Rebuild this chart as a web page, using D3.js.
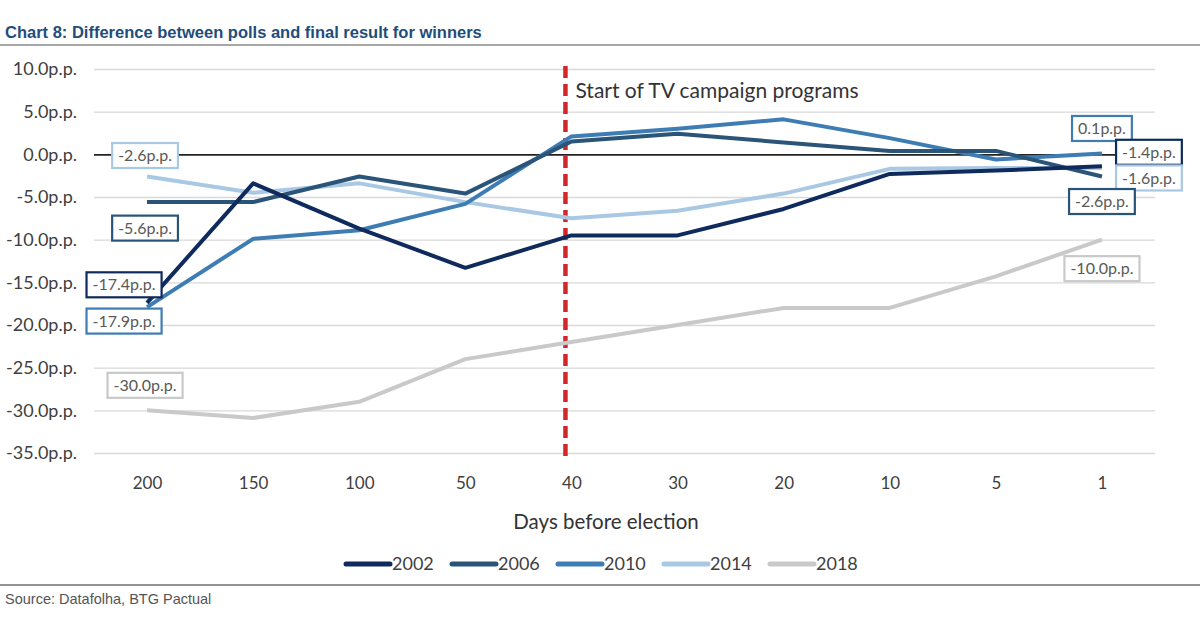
<!DOCTYPE html>
<html>
<head>
<meta charset="utf-8">
<script src="https://cdn.jsdelivr.net/npm/d3@7"></script>
<style>
  body { margin: 0; background: #fff; }
  svg { display: block; }
</style>
</head>
<body>
<div id="pollChart"></div>
<script>
var days = ['200', '150', '100', '50', '40', '30', '20', '10', '5', '1'];
var years = ['2002', '2006', '2010', '2014', '2018'];

var s2002 = [-17.4, -3.4, -8.7, -13.3, -9.5, -9.5, -6.4, -2.3, -1.9, -1.4];
var s2006 = [-5.6, -5.6, -2.6, -4.6, 1.5, 2.4, 1.4, 0.4, 0.4, -2.6];
var s2010 = [-17.9, -9.9, -8.9, -5.8, 2.1, 3.0, 4.1, 1.9, -0.6, 0.1];
var s2014 = [-2.6, -4.5, -3.4, -5.6, -7.5, -6.6, -4.6, -1.7, -1.6, -1.6];
var s2018 = [-30.0, -30.9, -29.0, -24.0, -22.0, -20.0, -18.0, -18.0, -14.3, -10.0];

var yTicks = [10, 5, 0, -5, -10, -15, -20, -25, -30, -35];

var seriesValues = [s2002, s2006, s2010, s2014, s2018];
var colors = ['#0f2a5c', '#2b5479', '#3e7cb4', '#a9c8e4', '#c9c9c9'];

// end labels: which series, which point, and where the box sits
var callouts = [
  { s: 3, i: 0, dx: -2, dy: -21 },
  { s: 1, i: 0, dx: -2, dy: 26 },
  { s: 0, i: 0, dx: -23, dy: -18 },
  { s: 2, i: 0, dx: -23, dy: 14 },
  { s: 4, i: 0, dx: -2, dy: -25 },
  { s: 2, i: 9, dx: 0, dy: -25 },
  { s: 0, i: 9, dx: 47, dy: -14 },
  { s: 3, i: 9, dx: 47, dy: 10 },
  { s: 1, i: 9, dx: 0, dy: 25 },
  { s: 4, i: 9, dx: 0, dy: 29 }
];

var W = 1200, H = 628;
var svg = d3.select('#pollChart').append('svg').attr('width', W).attr('height', H);
var font = 'Lato, "Noto Sans", sans-serif';

// plain hyphen for negatives, like the original
var locale = d3.formatLocale({ decimal: '.', thousands: ',', grouping: [3], currency: ['', ''], minus: '-' });
var fmt = function(v) { return locale.format('.1f')(v) + 'p.p.'; };

var x = d3.scalePoint().domain(days).range([94, 1155]).padding(0.5);
var y = d3.scaleLinear().domain([-35, 10]).range([453, 69]);

// title + rules
svg.append('text')
  .attr('x', 5).attr('y', 38)
  .attr('font-family', '"Liberation Sans Narrow", "Liberation Sans", Arial, sans-serif')
  .attr('font-size', 16.5).attr('font-weight', 'bold')
  .attr('fill', '#1f4d7a')
  .text('Chart 8: Difference between polls and final result for winners');
svg.append('line').attr('x1', 0).attr('x2', W).attr('y1', 45).attr('y2', 45)
  .attr('stroke', '#8a8a8a').attr('stroke-width', 1.5);
svg.append('line').attr('x1', 0).attr('x2', W).attr('y1', 585).attr('y2', 585)
  .attr('stroke', '#6f6f6f').attr('stroke-width', 1.5);
svg.append('text')
  .attr('x', 5).attr('y', 604)
  .attr('font-family', '"Liberation Sans", Arial, sans-serif')
  .attr('font-size', 14.5).attr('fill', '#555')
  .text('Source: Datafolha, BTG Pactual');

// y grid + labels
var yAxis = d3.axisLeft(y)
  .tickValues(yTicks)
  .tickSize(-(1155 - 94))
  .tickPadding(17)
  .tickFormat(fmt);

var gy = svg.append('g')
  .attr('transform', 'translate(94,0)')
  .call(yAxis);
gy.select('.domain').remove();
gy.selectAll('.tick line')
  .attr('stroke', function(d) { return d === 0 ? '#222' : '#d9d9d9'; })
  .attr('stroke-width', function(d) { return d === 0 ? 1.6 : 1.3; });
gy.selectAll('.tick text')
  .attr('font-family', font).attr('font-size', 18).attr('fill', '#404040');

// x labels
var xAxis = d3.axisBottom(x).tickSize(0).tickPadding(24);
var gx = svg.append('g')
  .attr('transform', 'translate(0,' + y(-35) + ')')
  .call(xAxis);
gx.select('.domain').remove();
gx.selectAll('.tick text')
  .attr('font-family', font).attr('font-size', 17).attr('fill', '#404040');

svg.append('text')
  .attr('x', 606).attr('y', 529)
  .attr('text-anchor', 'middle')
  .attr('font-family', font).attr('font-size', 20.5).attr('fill', '#333')
  .text('Days before election');

// TV campaign marker
svg.append('line')
  .attr('x1', x('40') - 6).attr('x2', x('40') - 6)
  .attr('y1', y(10) - 3).attr('y2', y(-35) + 3)
  .attr('stroke', '#d3262a').attr('stroke-width', 4.5)
  .attr('stroke-dasharray', '12,6');
svg.append('text')
  .attr('x', x('40') + 4).attr('y', 98)
  .attr('font-family', font).attr('font-size', 21).attr('fill', '#333')
  .text('Start of TV campaign programs');

// lines (2018 first so it sits behind)
var line = d3.line()
  .x(function(d, i) { return x(days[i]); })
  .y(function(d) { return y(d); });

var order = [4, 3, 2, 1, 0];
svg.append('g').selectAll('path')
  .data(order)
  .enter()
  .append('path')
  .attr('fill', 'none')
  .attr('stroke', function(k) { return colors[k]; })
  .attr('stroke-width', 4)
  .attr('stroke-linejoin', 'round')
  .attr('d', function(k) { return line(seriesValues[k]); });

// value callouts
var cg = svg.append('g').selectAll('g')
  .data(callouts)
  .enter()
  .append('g')
  .attr('transform', function(c) {
    return 'translate(' + (x(days[c.i]) + c.dx) + ',' + (y(seriesValues[c.s][c.i]) + c.dy) + ')';
  });
cg.append('text')
  .attr('text-anchor', 'middle')
  .attr('dy', '0.35em')
  .attr('font-family', font).attr('font-size', 16).attr('fill', '#595959')
  .text(function(c) { return fmt(seriesValues[c.s][c.i]); });
cg.each(function(c) {
  var g = d3.select(this);
  var bb = g.select('text').node().getBBox();
  g.insert('rect', 'text')
    .attr('x', bb.x - 6).attr('y', -12.5)
    .attr('width', bb.width + 12).attr('height', 25)
    .attr('fill', '#fff')
    .attr('stroke', colors[c.s])
    .attr('stroke-width', 2.2);
});

// legend
var lg = svg.append('g').selectAll('g')
  .data(years)
  .enter()
  .append('g')
  .attr('transform', function(d, i) { return 'translate(' + (346 + i * 106) + ',564)'; });
lg.append('line')
  .attr('x1', 0).attr('x2', 44)
  .attr('stroke', function(d, i) { return colors[i]; })
  .attr('stroke-width', 5)
  .attr('stroke-linecap', 'round');
lg.append('text')
  .attr('x', 46).attr('dy', '0.35em')
  .attr('font-family', font).attr('font-size', 18).attr('fill', '#404040')
  .text(function(d) { return d; });
</script>
</body>
</html>
